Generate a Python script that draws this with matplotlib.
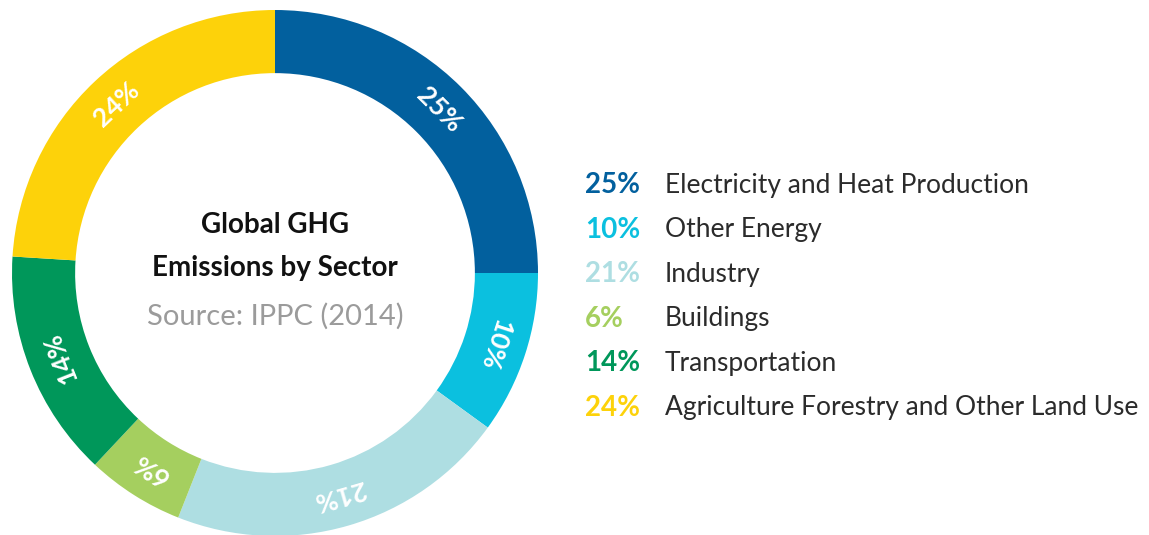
import numpy as np
import matplotlib.pyplot as plt

plt.rcParams['font.family'] = ['Lato', 'DejaVu Sans']

sectors = ["Electricity and Heat Production", "Other Energy", "Industry",
           "Buildings", "Transportation", "Agriculture Forestry and Other Land Use"]
shares = [25, 10, 21, 6, 14, 24]
colors = ["#02609E", "#0BC0DF", "#AEDEE2", "#A5CF5F", "#00975A", "#FDD20A"]

W, H = 1149, 535
fig = plt.figure(figsize=(W / 100, H / 100), dpi=100)
ax = fig.add_axes([0, 0, 1, 1])

cx, cy, R = 275, H - 273, 263
ring = 0.24
ax.pie(shares, colors=colors, startangle=90, counterclock=False,
       center=(cx, cy), radius=R, wedgeprops=dict(width=R * ring, linewidth=0))

# labels on the ring, tangential
cum = np.cumsum([0] + shares)
for i, s in enumerate(shares):
    mid = (cum[i] + s / 2) / 100 * 360
    ang = 90 - mid
    r = R * (1 - ring / 2)
    x = cx + r * np.cos(np.radians(ang))
    y = cy + r * np.sin(np.radians(ang))
    ax.text(x, y, f"{s}%", color="white", fontsize=19, fontweight="bold",
            rotation=ang - 90, rotation_mode="anchor", ha="center", va="center")

# centre title
ax.text(cx, H - 225, "Global GHG", fontsize=20, fontweight="bold",
        ha="center", va="center", color="#111111")
ax.text(cx, H - 268, "Emissions by Sector", fontsize=20, fontweight="bold",
        ha="center", va="center", color="#111111")
ax.text(cx, H - 316, "Source: IPPC (2014)", fontsize=21,
        ha="center", va="center", color="#9B9B9B")

# legend
for i, (name, s) in enumerate(zip(sectors, shares)):
    y = H - (185 + i * 44.6)
    ax.text(585, y, f"{s}%", color=colors[i], fontsize=20, fontweight="bold",
            ha="left", va="center")
    ax.text(665, y, name, color="#2B2B2B", fontsize=19, ha="left", va="center")

ax.set_xlim(0, W)
ax.set_ylim(0, H)
ax.set_aspect("equal")
ax.axis("off")
fig.savefig("out.png", dpi=100, facecolor="white")
